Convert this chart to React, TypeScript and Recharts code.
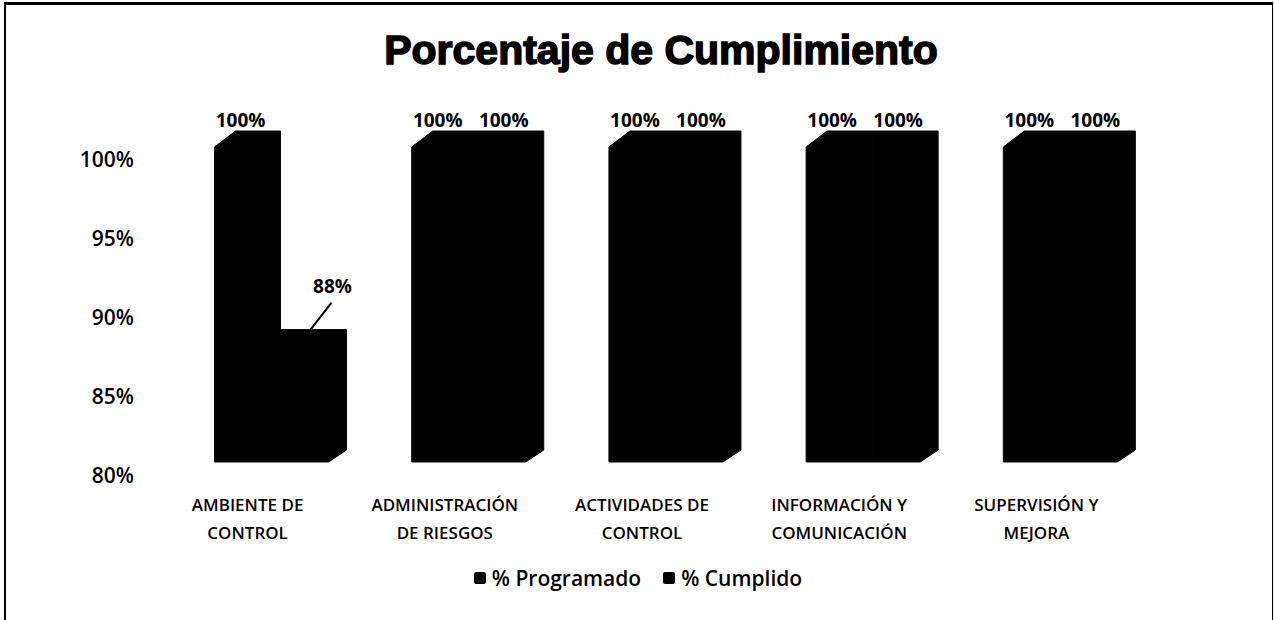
import React from 'react';
import { BarChart, Bar, XAxis, YAxis, Legend, LabelList } from 'recharts';

const categories = [
  'AMBIENTE DE CONTROL',
  'ADMINISTRACIÓN DE RIESGOS',
  'ACTIVIDADES DE CONTROL',
  'INFORMACIÓN Y COMUNICACIÓN',
  'SUPERVISIÓN Y MEJORA',
];
const categoryLines = [
  ['AMBIENTE DE', 'CONTROL'],
  ['ADMINISTRACIÓN', 'DE RIESGOS'],
  ['ACTIVIDADES DE', 'CONTROL'],
  ['INFORMACIÓN Y', 'COMUNICACIÓN'],
  ['SUPERVISIÓN Y', 'MEJORA'],
];
const programado = [100, 100, 100, 100, 100];
const cumplido = [88, 100, 100, 100, 100];
const yTicks = [80, 85, 90, 95, 100];

const data = categories.map((name, i) => ({
  name,
  programado: programado[i],
  cumplido: cumplido[i],
}));

const FONT = '"Open Sans", "Liberation Sans", sans-serif';
const PLOT_TOP = 131;

// 3D-ish silhouettes: chamfered top-left for the first series, bottom-right for the second
const ProgramadoShape = (props: any) => {
  const { x, y, width, height } = props;
  const d = `M${x},${y + 16} L${x + 21},${y} L${x + width},${y} L${x + width},${y + height} L${x},${y + height} Z`;
  return <path d={d} fill="#000" stroke="#000" strokeWidth={1} />;
};

const CumplidoShape = (props: any) => {
  const { x, y, width, height } = props;
  const d = `M${x},${y} L${x + width},${y} L${x + width},${y + height - 12} L${x + width - 18},${y + height} L${x},${y + height} Z`;
  return <path d={d} fill="#000" stroke="#000" strokeWidth={1} />;
};

const ValueLabel = (props: any) => {
  const { x, y, width, value } = props;
  const cx = x + width / 2;
  if (value < 100) {
    return (
      <g>
        <line x1={cx - 3} y1={y} x2={cx + 18} y2={y - 27} stroke="#000" strokeWidth={2} />
        <text x={cx + 19} y={y - 44} textAnchor="middle" dominantBaseline="central"
          fontFamily={FONT} fontWeight={700} fontSize={19} fill="#000">
          {value}%
        </text>
      </g>
    );
  }
  return (
    <text x={cx - 7} y={y - 11} textAnchor="middle" dominantBaseline="central"
      fontFamily={FONT} fontWeight={700} fontSize={19} fill="#000">
      {value}%
    </text>
  );
};

const YTick = (props: any) => {
  const { y, payload } = props;
  // labels sit slightly lower than the 3D bar faces
  const ly = 159 + (y - PLOT_TOP) * 0.955;
  return (
    <text x={134} y={ly} textAnchor="end" dominantBaseline="central"
      fontFamily={FONT} fontWeight={600} fontSize={21} fill="#000">
      {payload.value}%
    </text>
  );
};

const XTick = (props: any) => {
  const { x, y, index } = props;
  const lines = categoryLines[index] || [];
  return (
    <g>
      {lines.map((ln, i) => (
        <text key={i} x={x - 33} y={y + 34 + i * 28} textAnchor="middle" dominantBaseline="central"
          fontFamily={FONT} fontWeight={600} fontSize={17} fill="#000">
          {ln}
        </text>
      ))}
    </g>
  );
};

const LegendContent = () => (
  <div style={{ display: 'flex', justifyContent: 'center', alignItems: 'center', gap: 22, fontFamily: FONT, fontWeight: 600, fontSize: 21, color: '#000', paddingLeft: 2 }}>
    {['% Programado', '% Cumplido'].map((t) => (
      <div key={t} style={{ display: 'flex', alignItems: 'center' }}>
        <span style={{ width: 12, height: 12, background: '#000', borderRadius: 2, marginRight: 6, display: 'inline-block' }} />
        <span>{t}</span>
      </div>
    ))}
  </div>
);

export default function App() {
  return (
    <div style={{ position: 'absolute', left: 0, top: 0, width: 1274, height: 620, background: '#fff', overflow: 'hidden' }}>
      <div style={{ position: 'absolute', left: 4, top: 2, width: 1266, height: 640, borderTop: '3px solid #000', borderLeft: '2px solid #000', borderRight: '1px solid #000' }} />
      <div style={{ position: 'absolute', left: 48, top: 26, width: 1226, textAlign: 'center', fontFamily: '"Liberation Sans", Arial, sans-serif', fontWeight: 700, fontSize: 41, WebkitTextStroke: '1.5px #000', color: '#000', lineHeight: '48px' }}>
        Porcentaje de Cumplimiento
      </div>
      <BarChart width={1274} height={620} data={data}
        margin={{ top: PLOT_TOP, right: 106, bottom: 98, left: 0 }}
        barCategoryGap="16.5%" barGap={0}
        style={{ position: 'absolute', left: 0, top: 0 }}>
        <XAxis dataKey="name" axisLine={false} tickLine={false} tick={<XTick />} height={60} interval={0} />
        <YAxis domain={[80, 100]} ticks={yTicks} axisLine={false} tickLine={false} tick={<YTick />} width={182} />
        <Legend verticalAlign="middle" layout="horizontal" content={<LegendContent />}
          wrapperStyle={{ top: 564, left: 0, width: 1274 }} />
        <Bar dataKey="programado" name="% Programado" fill="#000" shape={<ProgramadoShape />} isAnimationActive={false}>
          <LabelList dataKey="programado" content={<ValueLabel />} />
        </Bar>
        <Bar dataKey="cumplido" name="% Cumplido" fill="#000" shape={<CumplidoShape />} isAnimationActive={false}>
          <LabelList dataKey="cumplido" content={<ValueLabel />} />
        </Bar>
      </BarChart>
    </div>
  );
}
